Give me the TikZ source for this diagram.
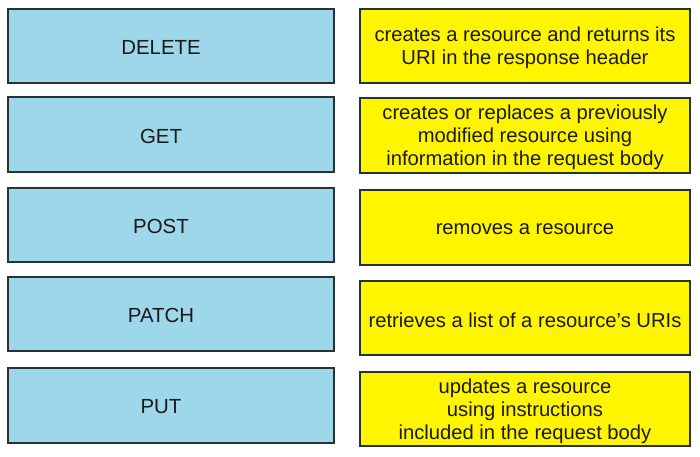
\documentclass[tikz,border=0pt]{standalone}
\usepackage{fontspec}
\setmainfont{Liberation Sans}
\definecolor{boxblue}{HTML}{9DD7E9}
\definecolor{boxyellow}{HTML}{FFF500}
\definecolor{edge}{HTML}{263333}
\definecolor{txt}{HTML}{1A1A1A}
\begin{document}
\begin{tikzpicture}[x=1pt,y=-1pt,
  method/.style={draw=edge,line width=1.3pt,fill=boxblue},
  methodtext/.style={text=txt,xshift=-10pt,yshift=-1.5pt,font=\fontsize{20.4}{23}\selectfont},
  desc/.style={draw=edge,line width=1.3pt,fill=boxyellow},
  desctext/.style={text=txt,align=center,yshift=-2pt,font=\fontsize{20.2}{23}\selectfont}]
\useasboundingbox (0,0) rectangle (700,456);
% left column
\draw[method] (8,9) rectangle (334,83) node[midway,methodtext] (m1) {DELETE};
\draw[method] (8,97) rectangle (334,172) node[midway,methodtext] (m2) {GET};
\draw[method] (8,188) rectangle (334,262) node[midway,methodtext] (m3) {POST};
\draw[method] (8,277) rectangle (334,351) node[midway,methodtext] (m4) {PATCH};
\draw[method] (8,368) rectangle (334,443) node[midway,methodtext] (m5) {PUT};
% right column
\draw[desc] (360,9) rectangle (690,83) node[midway,desctext] (d1) {creates a resource and returns its\\URI in the response header};
\draw[desc] (360,98) rectangle (690,173) node[midway,desctext] (d2) {creates or replaces a previously\\modified resource using\\information in the request body};
\draw[desc] (360,190) rectangle (690,265) node[midway,desctext] (d3) {removes a resource};
\draw[desc] (360,281) rectangle (690,355) node[midway,desctext] (d4) {retrieves a list of a resource’s URIs};
\draw[desc] (360,372) rectangle (690,446) node[midway,desctext] (d5) {updates a resource\\using instructions\\included in the request body};
\end{tikzpicture}
\end{document}
